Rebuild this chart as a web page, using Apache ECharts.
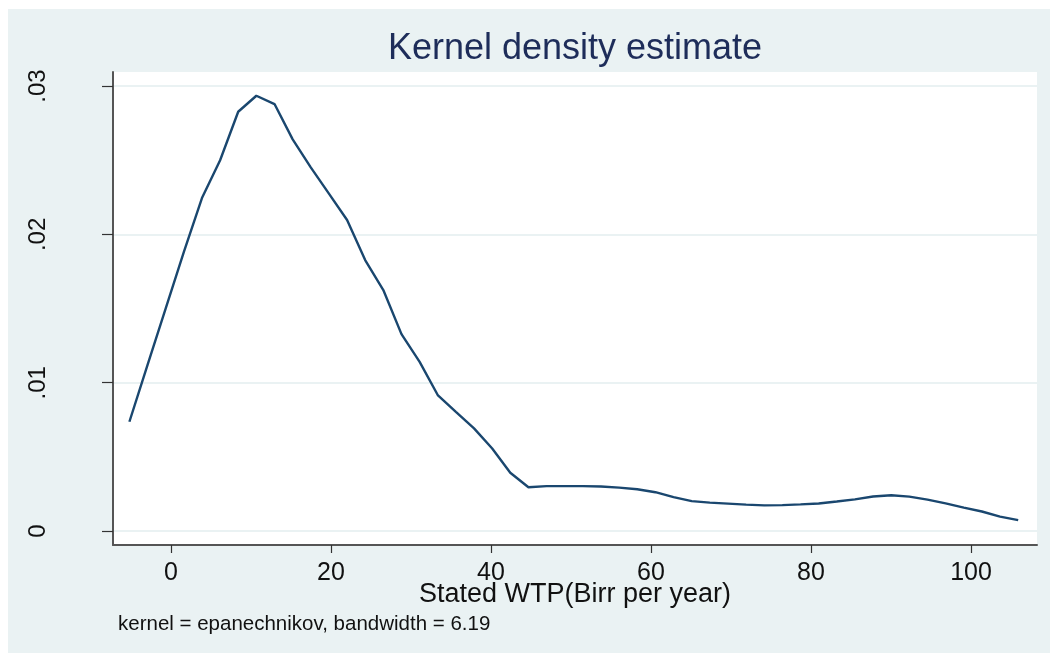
<!DOCTYPE html>
<html>
<head>
<meta charset="utf-8">
<script src="https://cdn.jsdelivr.net/npm/echarts@6/dist/echarts.min.js"></script>
<style>
  html, body { margin: 0; padding: 0; background: #ffffff; }
  #chart { position: absolute; left: 8px; top: 9px; width: 1042px; height: 644px; }
</style>
</head>
<body>
<div id="chart"></div>
<script>
// Grid of evaluation points (Stated WTP, Birr per year)
const wtp = [
  -5.20, -2.93, -0.67, 1.60, 3.87, 6.14, 8.40, 10.67, 12.94, 15.21,
  17.47, 19.74, 22.01, 24.27, 26.54, 28.81, 31.08, 33.34, 35.61, 37.88,
  40.15, 42.41, 44.68, 46.95, 49.22, 51.48, 53.75, 56.02, 58.28, 60.55,
  62.82, 65.09, 67.35, 69.62, 71.89, 74.16, 76.42, 78.69, 80.96, 83.22,
  85.49, 87.76, 90.03, 92.29, 94.56, 96.83, 99.10, 101.36, 103.63, 105.90
];
// Kernel density values
const density = [
  0.00737, 0.01120, 0.01500, 0.01880, 0.02245, 0.02500, 0.02827, 0.02935, 0.02879, 0.02641,
  0.02452, 0.02275, 0.02097, 0.01827, 0.01625, 0.01328, 0.01141, 0.00917, 0.00804, 0.00692,
  0.00557, 0.00393, 0.00295, 0.00303, 0.00303, 0.00303, 0.00300, 0.00293, 0.00282, 0.00262,
  0.00229, 0.00202, 0.00192, 0.00185, 0.00178, 0.00173, 0.00175, 0.00180, 0.00186, 0.00199,
  0.00214, 0.00233, 0.00241, 0.00232, 0.00212, 0.00187, 0.00158, 0.00132, 0.00097, 0.00074
];
const xTicks = [0, 20, 40, 60, 80, 100];
const yTicks = [0, 0.01, 0.02, 0.03];
const yTickLabels = ['0', '.01', '.02', '.03'];
const titleText = 'Kernel density estimate';
const xTitle = 'Stated WTP(Birr per year)';
const noteText = 'kernel = epanechnikov, bandwidth = 6.19';

const points = wtp.map((x, i) => [x, density[i]]);
const FONT = '"Liberation Sans", Arial, sans-serif';

const chart = echarts.init(document.getElementById('chart'), null, { renderer: 'canvas' });
chart.setOption({
  backgroundColor: '#EAF2F3',
  animation: false,
  grid: {
    left: 105, top: 63, right: 13, bottom: 108,
    show: true, backgroundColor: '#ffffff', borderWidth: 0
  },
  xAxis: {
    type: 'value',
    min: -7.25, max: 108.25,
    axisLine: { show: true, onZero: false, lineStyle: { color: '#555555', width: 2 } },
    axisTick: { show: true, length: 8, customValues: xTicks, lineStyle: { color: '#333333', width: 1.2 } },
    axisLabel: {
      customValues: xTicks, margin: 16,
      color: '#111111', fontSize: 25, fontFamily: FONT
    },
    splitLine: { show: false }
  },
  yAxis: {
    type: 'value',
    min: -0.00094, max: 0.03095,
    axisLine: { show: true, onZero: false, lineStyle: { color: '#555555', width: 2 } },
    axisTick: { show: true, length: 11, customValues: yTicks, lineStyle: { color: '#333333', width: 1.2 } },
    axisLabel: {
      customValues: yTicks, rotate: 90, margin: 63,
      color: '#111111', fontSize: 24, fontFamily: FONT,
      formatter: function (v) {
        const idx = yTicks.findIndex(t => Math.abs(t - v) < 1e-9);
        return idx >= 0 ? yTickLabels[idx] : '';
      }
    },
    splitLine: { show: true, lineStyle: { color: '#EAF2F3', width: 2 } }
  },
  series: [{
    type: 'line',
    data: points,
    showSymbol: false,
    smooth: false,
    lineStyle: { color: '#1A476F', width: 2.4 },
    z: 5
  }],
  graphic: [
    {
      type: 'text', x: 567, y: 40,
      style: {
        text: titleText, fill: '#1E2D5A', fontSize: 36, fontFamily: FONT,
        textAlign: 'center', textVerticalAlign: 'middle'
      }
    },
    {
      type: 'text', x: 567, y: 586,
      style: {
        text: xTitle, fill: '#111111', fontSize: 27, fontFamily: FONT,
        textAlign: 'center', textVerticalAlign: 'middle'
      }
    },
    {
      type: 'text', x: 110, y: 615,
      style: {
        text: noteText, fill: '#111111', fontSize: 20.5, fontFamily: FONT,
        textAlign: 'left', textVerticalAlign: 'middle'
      }
    }
  ]
});
</script>
</body>
</html>
